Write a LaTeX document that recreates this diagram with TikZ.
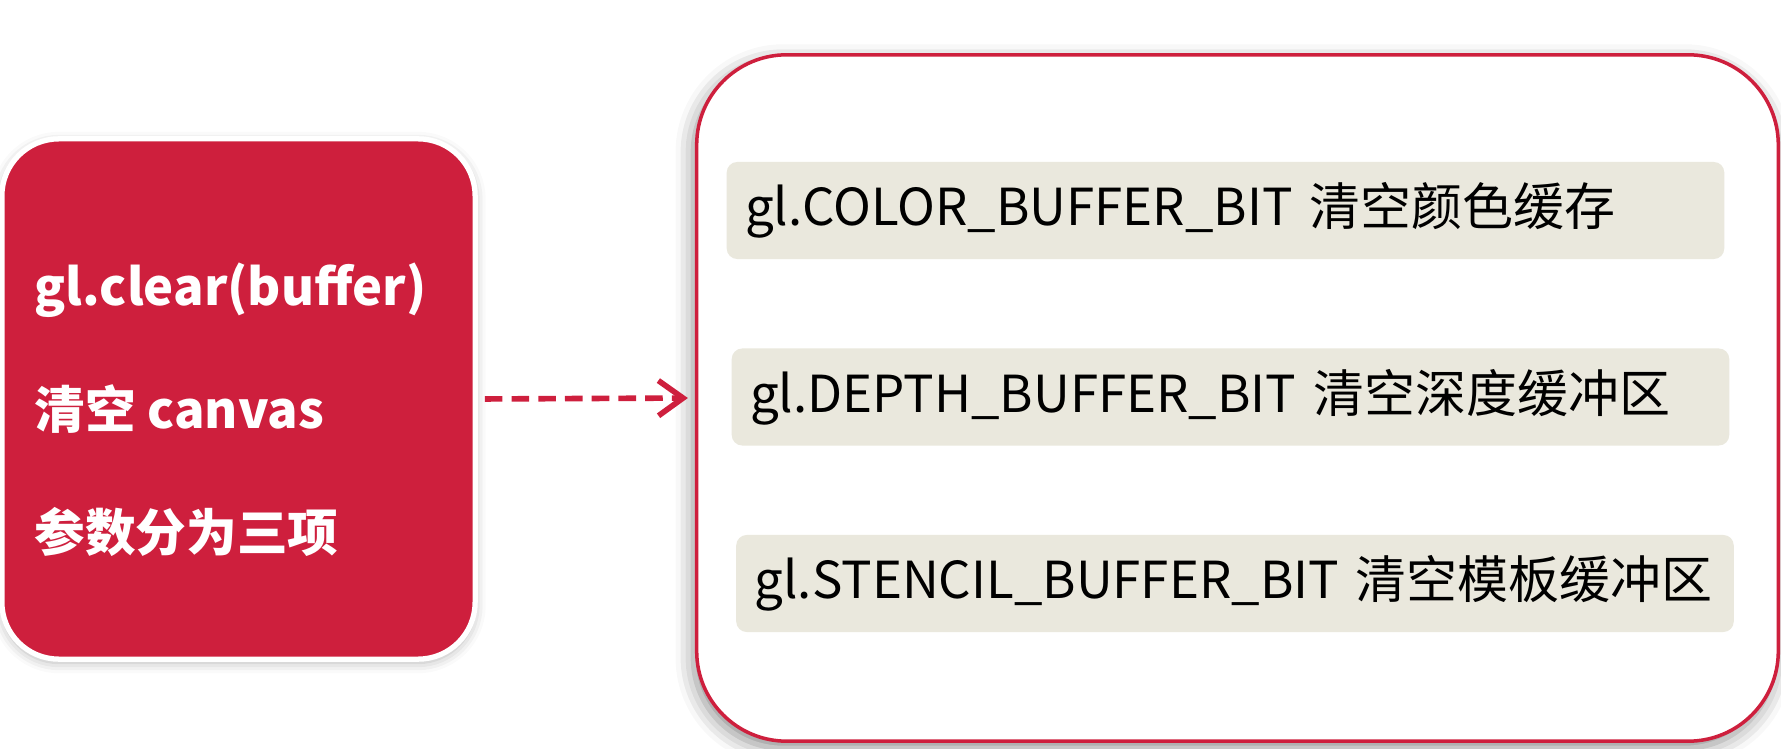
\documentclass[tikz,border=0pt]{standalone}
\usepackage{fontspec}
\setmainfont{Noto Sans CJK SC}
\usetikzlibrary{arrows.meta, positioning, shadows.blur}
\definecolor{myred}{RGB}{206,31,61}
\definecolor{mybeige}{RGB}{234,232,221}
\tikzset{
  redbox/.style={rectangle, fill=myred, draw=white, line width=1.5pt,
    rounded corners=0.57cm, minimum width=4.73cm, minimum height=5.2cm,
    blur shadow={shadow xshift=0pt, shadow yshift=-1pt, shadow blur radius=3pt, shadow opacity=30}},
  framebox/.style={rectangle, fill=white, draw=myred, line width=1pt,
    rounded corners=0.9cm, minimum width=10.81cm, minimum height=6.86cm,
    blur shadow={shadow xshift=-1pt, shadow yshift=-2pt, shadow blur radius=5pt, shadow opacity=45}},
  itembox/.style={rectangle, fill=mybeige, rounded corners=3pt,
    minimum height=0.97cm, text width=9.6cm, inner xsep=0.185cm, align=left,
    font=\fontsize{14.5}{18}\selectfont},
  redtext/.style={text=white, anchor=west, inner sep=0pt,
    font=\bfseries\fontsize{14.4}{18}\selectfont},
  dasharrow/.style={-{Straight Barb[length=7pt, width=10pt]}, myred,
    line width=1.6pt, dash pattern=on 5pt off 2.6pt}
}
\begin{document}
\begin{tikzpicture}[x=0.01cm, y=-0.01cm]
  \useasboundingbox (0,0) rectangle (1781,749);
  % Left: the call
  \node[redbox] (clear) at (238.5,399) {};
  \node[redtext] (call) at (34,290) {gl.clear(buffer)};
  \node[redtext] (canvas) at (34,409) {清空 canvas};
  \node[redtext] (args) at (34,532) {参数分为三项};

  % Right: the three buffer bits
  \node[framebox] (bits) at (1237.5,398) {};
  \node[itembox] (color) at (1225.5,210.5) {gl.COLOR\_BUFFER\_BIT~清空颜色缓存};
  \node[itembox] (depth) at (1230.5,397) {gl.DEPTH\_BUFFER\_BIT~清空深度缓冲区};
  \node[itembox] (stencil) at (1235,583.5) {gl.STENCIL\_BUFFER\_BIT~清空模板缓冲区};

  % Connector
  \draw[dasharrow, shorten <=2pt, shorten >=2pt] (clear.east) -- (bits.west);
\end{tikzpicture}
\end{document}
